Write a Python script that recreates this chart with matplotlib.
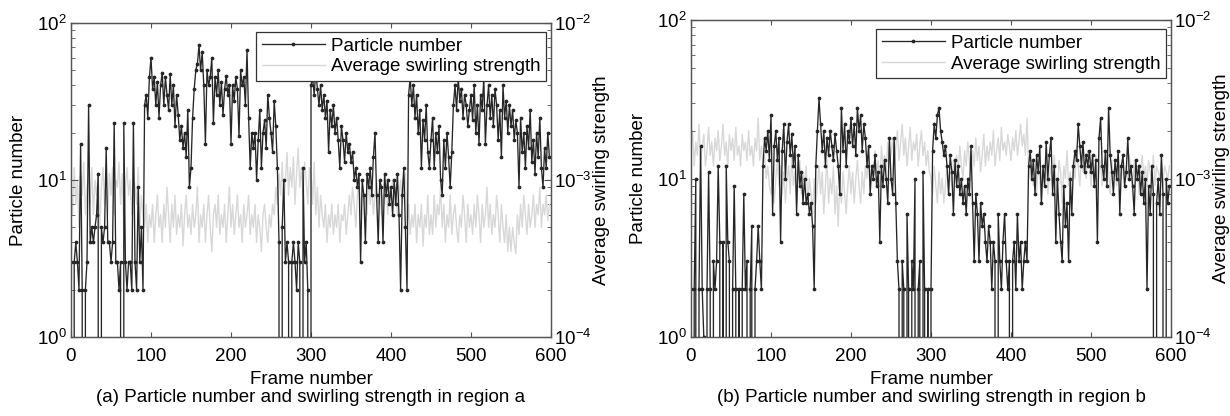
import numpy as np
import matplotlib
matplotlib.use('Agg')
import matplotlib.pyplot as plt
from matplotlib.ticker import LogLocator, NullFormatter, FixedLocator

plt.rcParams['font.family'] = ['Liberation Sans', 'DejaVu Sans']
plt.rcParams['mathtext.fontset'] = 'custom'
plt.rcParams['mathtext.rm'] = 'Liberation Sans'

# Frame step between stored samples
FRAME_STEP = 2

# ---------------- Region a ----------------
# particle number (frames 0,2,4,...,598); 0 = no particle (drops off log axis)
particles_a = [
    3, 0, 3, 4, 3, 2, 17, 2, 0, 2, 3, 30, 4, 5, 4, 5, 6, 11, 0, 5, 4, 5, 16, 4, 4,
    3, 4, 23, 3, 3, 2, 3, 0, 23, 3, 2, 3, 3, 2, 23, 3, 2, 9, 3, 5, 2, 30, 35, 25, 45,
    60, 38, 45, 30, 42, 25, 40, 48, 30, 45, 35, 28, 47, 30, 40, 22, 35, 26, 18, 22, 16, 20, 14, 28, 9,
    12, 25, 38, 50, 55, 72, 50, 65, 40, 17, 50, 40, 45, 60, 23, 45, 35, 50, 30, 42, 26, 38, 46, 35, 40,
    17, 40, 32, 45, 38, 19, 50, 40, 45, 30, 67, 25, 12, 20, 16, 20, 10, 18, 28, 12, 20, 24, 16, 35, 25,
    20, 15, 32, 22, 12, 4, 0, 5, 10, 3, 4, 3, 0, 3, 4, 3, 2, 4, 3, 0, 12, 3, 4, 2, 0,
    40, 45, 35, 50, 38, 30, 40, 28, 35, 25, 32, 15, 28, 22, 30, 20, 25, 18, 12, 22, 18, 13, 20, 15, 17,
    13, 15, 10, 12, 9, 11, 3, 10, 8, 4, 11, 9, 12, 8, 14, 20, 8, 4, 10, 9, 4, 11, 8, 10, 7,
    9, 6, 10, 7, 11, 6, 2, 8, 12, 5, 2, 35, 45, 30, 40, 25, 35, 20, 28, 12, 24, 18, 30, 15, 12,
    18, 25, 12, 20, 15, 22, 10, 8, 18, 12, 20, 14, 9, 15, 30, 40, 28, 45, 32, 38, 25, 35, 30, 22, 28,
    35, 24, 40, 20, 30, 17, 35, 28, 45, 17, 30, 40, 25, 35, 22, 38, 30, 18, 28, 14, 40, 25, 32, 20, 30,
    22, 28, 18, 24, 20, 9, 25, 15, 20, 12, 22, 16, 28, 13, 18, 11, 20, 14, 25, 12, 9, 16, 12, 20, 14,
]
# average swirling strength, in units of 1e-4
swirl_a_e4 = [
    9, 6, 12, 7, 10, 5, 11, 8, 13, 6, 9, 11, 7, 12, 6, 10, 8, 11, 5, 9, 12, 7, 10, 6, 11,
    8, 12, 6, 10, 9, 13, 7, 11, 5, 9, 12, 8, 10, 6, 11, 9, 7, 12, 5, 8, 6, 5, 7, 4, 6,
    5, 7, 4, 6, 8, 5, 6, 4, 7, 5, 9, 6, 4, 7, 5, 8, 4.5, 6, 5, 7, 3.8, 6, 8, 5, 6,
    4.5, 7, 5, 6, 9, 4, 6, 5, 7, 4, 6, 8, 5, 3.5, 6, 7, 5, 8, 4.5, 6, 5, 7, 4, 6, 9,
    5, 7, 4.5, 6, 8, 5, 6, 4, 7, 5, 6, 8, 4.5, 6, 5, 7, 4, 6, 5, 3.5, 6, 7, 5, 4, 6,
    5, 7, 6, 9, 7, 11, 8, 13, 7, 10, 15, 8, 12, 9, 14, 7, 11, 16, 9, 12, 8, 13, 10, 7, 12,
    11, 7, 13, 6, 9, 5, 8, 6, 5, 7, 4, 6, 5, 7, 4.5, 6, 5, 7, 4, 6, 5.5, 7, 4.5, 6, 8,
    6, 9, 7, 5, 8, 10, 6, 9, 7, 8, 6, 10, 7, 9, 6, 8, 10, 7, 9, 6, 8, 7, 10, 6, 9,
    8, 10, 7, 9, 6, 8, 10, 7, 9, 11, 5, 7, 4.5, 6, 5, 7, 4, 6, 5, 7, 3.8, 6, 5, 8, 4.5,
    6, 4.5, 8, 5, 7, 6, 9, 5, 7, 4, 6, 5, 8, 4.5, 6, 7, 5, 4, 6, 5, 8, 6, 4, 7, 5,
    6, 4.5, 7, 5, 8, 6, 4, 7, 5, 6, 9, 5, 7, 4.5, 6, 5, 8, 6, 4, 7, 5, 4, 6, 3.5, 5,
    3.5, 5, 4, 3.4, 6, 4.5, 7, 5, 8, 6, 4.5, 7, 5, 6, 8, 5, 7, 6, 9, 5, 7, 6, 8, 5.5, 7,
]

# ---------------- Region b ----------------
particles_b = [
    2, 0, 2, 10, 0, 2, 16, 2, 1, 0, 2, 11, 2, 0, 3, 2, 3, 12, 4, 0, 4, 0, 12, 4, 3,
    0, 2, 9, 2, 0, 2, 0, 2, 8, 2, 3, 0, 2, 5, 0, 2, 3, 5, 3, 2, 12, 18, 15, 20, 13,
    25, 6, 16, 20, 13, 18, 4, 15, 22, 10, 17, 22, 14, 19, 12, 16, 6, 14, 9, 11, 7, 10, 7, 8, 6,
    7, 5, 2, 12, 20, 32, 22, 15, 20, 12, 18, 14, 20, 16, 13, 19, 15, 12, 8, 28, 15, 22, 12, 20, 17,
    24, 16, 22, 14, 28, 20, 25, 15, 22, 18, 12, 16, 8, 12, 10, 14, 9, 11, 4, 12, 9, 13, 10, 7, 18,
    10, 8, 18, 7, 3, 2, 0, 3, 2, 0, 6, 2, 0, 3, 2, 10, 0, 2, 3, 0, 11, 2, 0, 2, 0,
    2, 15, 22, 18, 25, 28, 20, 17, 14, 16, 12, 8, 14, 11, 6, 13, 9, 12, 8, 10, 7, 9, 6, 10, 8,
    16, 7, 3, 8, 6, 3, 7, 5, 6, 4, 3, 5, 4, 2, 4, 3, 0, 6, 3, 2, 4, 6, 3, 2, 3,
    0, 3, 4, 2, 6, 3, 4, 2, 3, 4, 3, 12, 15, 10, 13, 8, 14, 11, 16, 7, 12, 9, 17, 10, 14,
    18, 8, 12, 4, 10, 6, 4, 3, 9, 5, 7, 3, 10, 6, 12, 15, 13, 22, 16, 12, 17, 11, 14, 12, 15,
    11, 14, 9, 13, 4, 18, 24, 12, 10, 15, 9, 28, 14, 11, 8, 13, 10, 15, 6, 12, 14, 9, 11, 18, 10,
    12, 9, 6, 13, 10, 12, 8, 11, 7, 10, 2, 9, 6, 12, 8, 0, 7, 10, 6, 14, 8, 0, 10, 7, 9,
]
swirl_b_e4 = [
    15, 20, 12, 17, 14, 22, 13, 16, 19, 12, 15, 21, 14, 17, 12, 18, 15, 20, 13, 16, 22, 14, 17, 12, 19,
    15, 18, 13, 21, 14, 16, 12, 19, 15, 17, 13, 20, 14, 16, 12, 18, 15, 24, 13, 16, 12, 14, 10, 12, 9,
    8, 11, 7, 10, 13, 9, 12, 8, 11, 7, 10, 12, 8, 14, 9, 11, 7, 10, 13, 8, 11, 9, 12, 7, 10,
    8, 6, 10, 7, 9, 12, 8, 11, 6, 9, 13, 7, 10, 8, 12, 6, 9, 5, 10, 7, 11, 8, 6, 9, 12,
    8, 11, 7, 10, 13, 9, 7, 11, 8, 12, 10, 14, 9, 12, 10, 15, 11, 13, 9, 16, 12, 14, 11, 17, 13,
    14, 18, 12, 16, 20, 13, 17, 22, 14, 18, 12, 16, 21, 13, 17, 15, 19, 12, 16, 20, 14, 17, 12, 15, 11,
    10, 8, 12, 9, 7, 11, 8, 10, 7, 9, 12, 8, 11, 9, 13, 10, 14, 11, 16, 12, 10, 15, 12, 17, 13,
    11, 15, 12, 18, 13, 16, 11, 14, 19, 12, 16, 13, 17, 14, 20, 12, 15, 18, 13, 21, 15, 17, 14, 19, 16,
    13, 18, 15, 20, 14, 17, 22, 16, 19, 14, 24, 12, 10, 13, 9, 11, 8, 12, 10, 7, 11, 9, 13, 8, 10,
    12, 9, 14, 10, 8, 13, 11, 7, 12, 10, 15, 9, 11, 8, 13, 10, 16, 12, 9, 14, 11, 13, 10, 15, 12,
    9, 12, 10, 14, 8, 11, 13, 9, 12, 10, 15, 11, 8, 13, 10, 12, 9, 14, 11, 10, 13, 9, 12, 10, 14,
    11, 9, 13, 10, 12, 8, 11, 14, 10, 12, 9, 13, 11, 10, 14, 9, 12, 11, 10, 13, 9, 12, 11, 10, 12,
]

x_ticks = [0, 100, 200, 300, 400, 500, 600]
x_label = 'Frame number'
y_left_label = 'Particle number'
y_right_label = 'Average swirling strength'
captions = ['(a) Particle number and swirling strength in region a',
            '(b) Particle number and swirling strength in region b']

FS = 13.5
PART_COLOR = '#262626'
SWIRL_COLOR = '#d8d8d8'
EDGE = '#555555'

fig = plt.figure(figsize=(12.3, 4.16), dpi=100)


def panel(rect, particles, swirl_e4, caption, cap_y):
    particles = np.asarray(particles, dtype=float)
    swirl = np.asarray(swirl_e4, dtype=float) * 1e-4
    xp = FRAME_STEP * np.arange(len(particles))
    xs = FRAME_STEP * np.arange(len(swirl))

    ax = fig.add_axes(rect)
    ax2 = ax.twinx()
    ax.set_zorder(ax2.get_zorder() + 1)
    ax.patch.set_visible(False)

    ax2.set_yscale('log')
    ax2.set_ylim(1e-4, 1e-2)
    l2, = ax2.plot(xs, swirl, color=SWIRL_COLOR, lw=1.0,
                   label=y_right_label)

    ax.set_yscale('log', nonpositive='clip')
    ax.set_ylim(1, 100)
    ax.set_xlim(0, 600)
    l1, = ax.plot(xp, particles, color=PART_COLOR, lw=0.95, marker='.',
                  ms=3.4, label=y_left_label)

    ax.xaxis.set_major_locator(FixedLocator(x_ticks))
    ax.set_xticklabels([str(t) for t in x_ticks])
    ax.yaxis.set_major_locator(LogLocator(base=10, numticks=5))
    ax.yaxis.set_minor_locator(LogLocator(base=10, subs=np.arange(2, 10), numticks=20))
    ax.yaxis.set_minor_formatter(NullFormatter())
    ax2.yaxis.set_minor_locator(LogLocator(base=10, subs=np.arange(2, 10), numticks=20))
    ax2.yaxis.set_minor_formatter(NullFormatter())

    for a in (ax, ax2):
        for sp in a.spines.values():
            sp.set_color(EDGE)
            sp.set_linewidth(0.9)
    ax.tick_params(axis='both', which='both', direction='in', top=True,
                   right=False, labelsize=FS, color=EDGE)
    ax.tick_params(axis='x', pad=8)
    ax.tick_params(axis='y', which='major', length=5, pad=3)
    ax.tick_params(axis='y', which='minor', length=3)
    ax2.tick_params(axis='y', which='both', direction='in', labelsize=FS,
                    color=EDGE, pad=2)
    ax2.tick_params(axis='y', which='major', length=5)
    ax2.tick_params(axis='y', which='minor', length=3)

    ax.set_xlabel(x_label, fontsize=FS, labelpad=4)
    ax.set_ylabel(y_left_label, fontsize=FS, labelpad=7)
    ax2.set_ylabel(y_right_label, fontsize=FS, labelpad=1)

    leg = ax.legend([l1, l2], [y_left_label, y_right_label],
                    loc='upper right', bbox_to_anchor=(0.99, 0.972),
                    borderaxespad=0, fontsize=FS, frameon=True, fancybox=False,
                    framealpha=1, edgecolor='#333333', handlelength=3.4,
                    handletextpad=0.3, labelspacing=0.2, borderpad=0.3)
    leg.get_frame().set_linewidth(0.9)
    leg.set_zorder(20)

    ax.text(0.5, cap_y, caption, transform=ax.transAxes, ha='center',
            va='center', fontsize=FS)
    return ax


panel([71 / 1230, 1 - 337 / 416, 480 / 1230, 314 / 416],
      particles_a, swirl_a_e4, captions[0], (337 - 398) / 314)
panel([691 / 1230, 1 - 337 / 416, 480 / 1230, 317 / 416],
      particles_b, swirl_b_e4, captions[1], (337 - 398) / 317)

fig.savefig('out.png', dpi=100)
